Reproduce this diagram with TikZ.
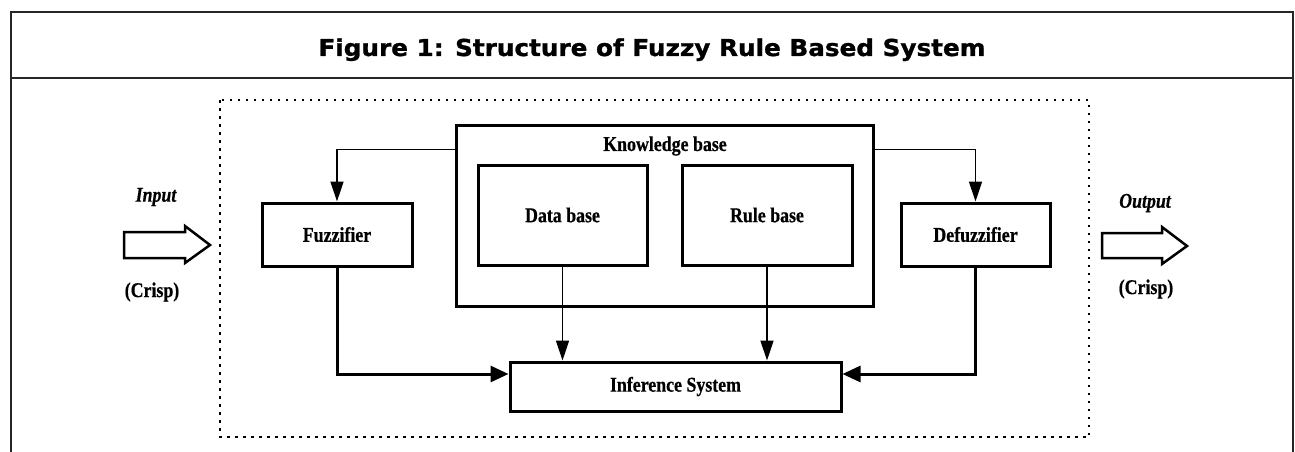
\documentclass[tikz,border=0pt]{standalone}
\usepackage{fontspec}
\setmainfont{Liberation Serif}[FakeStretch=0.85,BoldFeatures={FakeBold=0.6},BoldItalicFeatures={FakeBold=0.6}]
\newfontfamily\titlefont{DejaVu Sans}[FakeStretch=1.06,BoldFeatures={FakeBold=1.2}]
\usetikzlibrary{arrows.meta}
\tikzset{
  blk/.style={draw, line width=3pt, inner sep=0pt, font=\fontsize{21}{24}\selectfont\bfseries},
  conn/.style={line width=1.5pt, -{Triangle[length=20pt,width=13pt]}},
  thickconn/.style={line width=3pt, -{Triangle[length=18pt,width=16pt]}},
  hollow/.style={draw, line width=2.5pt, line join=miter},
  lbl/.style={inner sep=0pt, font=\fontsize{21}{24}\selectfont\bfseries}
}
\begin{document}
\begin{tikzpicture}[x=1pt,y=-1pt]
\useasboundingbox (0,0) rectangle (1295,452);
% outer frame
\draw[line width=2pt, black!85] (11,452) -- (11,12) -- (1293,12) -- (1293,452);
\draw[line width=2pt, black!85] (11,78) -- (1293,78);
\node[inner sep=0pt, anchor=base, font=\titlefont\fontsize{23.3}{26}\selectfont\bfseries] (title) at (652,56) {Figure 1: Structure of Fuzzy Rule Based System};
% dotted box
\draw[line width=2.8pt, dash pattern=on 2.5pt off 5.5pt] (220,100) rectangle (1089,437);
% blocks
\node[blk, minimum width=150pt, minimum height=63pt] (fuzz) at (337,234.5) {Fuzzifier};
\node[blk, minimum width=417pt, minimum height=181pt] (kb) at (664.5,215.5) {};
\node[lbl] (kbl) at (665,146) {Knowledge base};
\node[blk, minimum width=169pt, minimum height=100pt] (db) at (562.5,215) {Data base};
\node[blk, minimum width=170pt, minimum height=100pt] (rb) at (767,215) {Rule base};
\node[blk, minimum width=331pt, minimum height=49pt] (inf) at (675.5,386.5) {Inference System};
\node[blk, minimum width=149pt, minimum height=63pt] (defuzz) at (975.5,234.5) {Defuzzifier};
% connectors
\draw[conn] ([yshift=-26pt]kb.north west) -| (fuzz.north);
\draw[conn] ([yshift=-26pt]kb.north east) -| (defuzz.north);
\draw[conn] (db.south) -- (db.south |- inf.north);
\draw[conn] (rb.south) -- (rb.south |- inf.north);
\draw[thickconn] (fuzz.south) |- ([yshift=12.5pt]inf.west);
\draw[thickconn] (defuzz.south) |- ([yshift=12.5pt]inf.east);
% input arrow
\draw[hollow] (124,232) -- (185,232) -- (185,226) -- (210,245) -- (185,263) -- (185,258) -- (124,258) -- cycle;
\node[lbl, font=\fontsize{21}{24}\selectfont\bfseries\itshape] (inp) at (156,197) {Input};
\node[lbl] (crisp1) at (152,292) {(Crisp)};
% output arrow
\draw[hollow] (1102,233) -- (1162,233) -- (1162,227) -- (1187,246) -- (1162,264) -- (1162,258) -- (1102,258) -- cycle;
\node[lbl, font=\fontsize{21}{24}\selectfont\bfseries\itshape] (outp) at (1145,203) {Output};
\node[lbl] (crisp2) at (1146,289) {(Crisp)};
\end{tikzpicture}
\end{document}
